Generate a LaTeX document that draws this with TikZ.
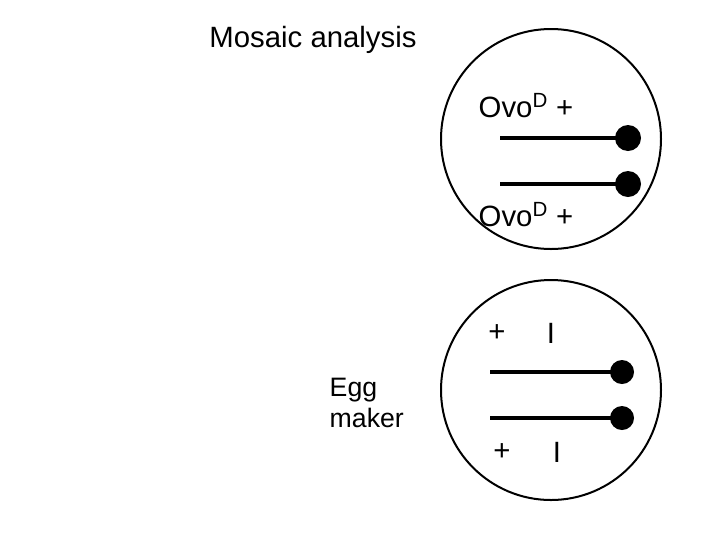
\documentclass[tikz,border=0pt]{standalone}
\usepackage{fontspec}
\setmainfont{Liberation Sans}
\begin{document}
\begin{tikzpicture}[x=0.75pt,y=-0.75pt,
  cell/.style={draw,line width=1.5pt},
  chrom/.style={line width=3pt},
  cen/.style={fill=black},
  big/.style={font=\fontsize{22}{26}\selectfont},
  mid/.style={font=\fontsize{20}{23}\selectfont,align=left}]
\useasboundingbox (0,0) rectangle (720,540);
\node[big] (title) at (313,40) {Mosaic analysis};
\draw[cell] (551,139) circle (110);
\draw[cell] (551,390) circle (110);
\coordinate (a1) at (500,138); \coordinate (a2) at (628,138);
\coordinate (b1) at (500,184); \coordinate (b2) at (628,184);
\coordinate (c1) at (490,372); \coordinate (c2) at (622,372);
\coordinate (d1) at (490,418); \coordinate (d2) at (622,418);
\draw[chrom] (a1) -- (a2); \draw[chrom] (b1) -- (b2);
\draw[chrom] (c1) -- (c2); \draw[chrom] (d1) -- (d2);
\fill[cen] (a2) circle (13); \fill[cen] (b2) circle (13);
\fill[cen] (c2) circle (12); \fill[cen] (d2) circle (12);
\node[big] (t1) at (526,106) {Ovo\textsuperscript{D} +};
\node[big] (t2) at (526,215) {Ovo\textsuperscript{D} +};
\node[big] (p1) at (497,333) {+};
\node[big] (i1) at (551,333) {I};
\node[big] (p2) at (502,452) {+};
\node[big] (i2) at (557,452) {I};
\node[mid,anchor=west] (egg) at (325,403) {Egg\\maker};
\end{tikzpicture}
\end{document}
